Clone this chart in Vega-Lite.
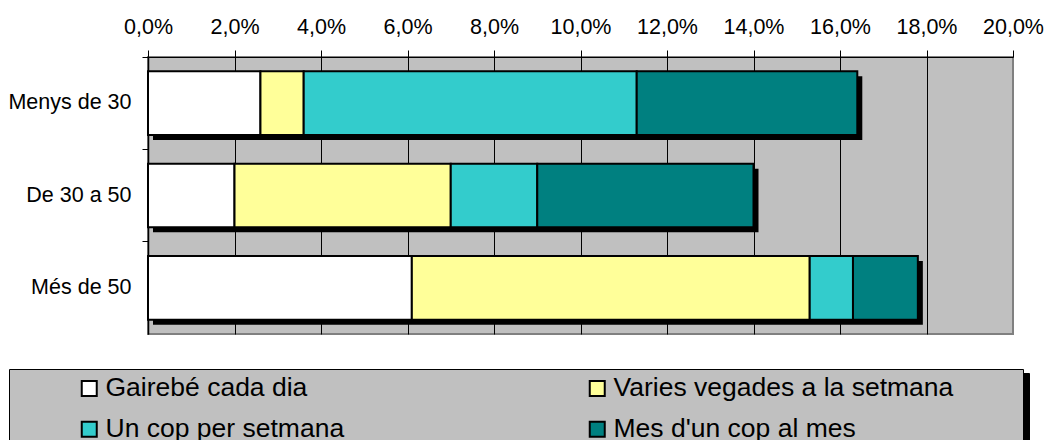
{
  "$schema": "https://vega.github.io/schema/vega-lite/v6.json",
  "width": 865,
  "height": 277,
  "autosize": {"type": "none"},
  "padding": {"left": 148, "top": 57, "right": 32, "bottom": 106},
  "background": "white",
  "config": {
    "font": "Liberation Sans",
    "view": {"fill": "#C0C0C0", "stroke": "#808080", "strokeWidth": 2}
  },
  "data": {
    "values": [
      {"grup": "Menys de 30", "cat": "Gairebé cada dia", "k": 1, "v": 2.6},
      {"grup": "Menys de 30", "cat": "Varies vegades a la setmana", "k": 2, "v": 1.0},
      {"grup": "Menys de 30", "cat": "Un cop per setmana", "k": 3, "v": 7.7},
      {"grup": "Menys de 30", "cat": "Mes d'un cop al mes", "k": 4, "v": 5.1},
      {"grup": "De 30 a 50", "cat": "Gairebé cada dia", "k": 1, "v": 2.0},
      {"grup": "De 30 a 50", "cat": "Varies vegades a la setmana", "k": 2, "v": 5.0},
      {"grup": "De 30 a 50", "cat": "Un cop per setmana", "k": 3, "v": 2.0},
      {"grup": "De 30 a 50", "cat": "Mes d'un cop al mes", "k": 4, "v": 5.0},
      {"grup": "Més de 50", "cat": "Gairebé cada dia", "k": 1, "v": 6.1},
      {"grup": "Més de 50", "cat": "Varies vegades a la setmana", "k": 2, "v": 9.2},
      {"grup": "Més de 50", "cat": "Un cop per setmana", "k": 3, "v": 1.0},
      {"grup": "Més de 50", "cat": "Mes d'un cop al mes", "k": 4, "v": 1.5}
    ]
  },
  "encoding": {
    "y": {
      "field": "grup", "type": "nominal",
      "sort": ["Menys de 30", "De 30 a 50", "Més de 50"],
      "scale": {"paddingInner": 0.31, "paddingOuter": 0.155},
      "axis": {
        "title": null,
        "bandPosition": -0.2246,
        "labelOffset": 0,
        "ticks": true,
        "tickSize": 6,
        "tickColor": "#000",
        "domainColor": "#000",
        "domainWidth": 1.5,
        "labelFontSize": 21.5,
        "labelPadding": 11,
        "labelColor": "#000",
        "grid": false
      }
    }
  },
  "layer": [
    {
      "transform": [
        {"aggregate": [{"op": "sum", "field": "v", "as": "total"}], "groupby": ["grup"]}
      ],
      "mark": {"type": "bar", "color": "#000", "xOffset": 5, "x2Offset": 5, "yOffset": 5},
      "encoding": {
        "x": {
          "field": "total", "type": "quantitative",
          "scale": {"domain": [0, 20], "nice": false},
          "axis": {
            "orient": "top",
            "title": null,
            "values": [0, 2, 4, 6, 8, 10, 12, 14, 16, 18, 20],
            "labelExpr": "replace(format(datum.value, '.1f'), '.', ',') + '%'",
            "grid": true,
            "gridColor": "#000",
            "gridWidth": 1,
            "gridOpacity": {"condition": {"test": "datum.value >= 20", "value": 0}, "value": 1},
            "tickColor": "#000",
            "tickSize": 7,
            "domainColor": "#000",
            "labelFontSize": 21.5,
            "labelPadding": 12,
            "labelColor": "#000",
            "labelFlush": false
          }
        }
      }
    },
    {
      "mark": {"type": "bar", "opacity": 0},
      "encoding": {
        "x": {
          "field": "v", "type": "quantitative", "stack": "zero",
          "scale": {"domain": [0, 20], "nice": false}
        },
        "strokeDash": {
          "field": "cat", "type": "nominal",
          "scale": {
            "domain": ["Un cop per setmana", "Varies vegades a la setmana", "Gairebé cada dia", "Mes d'un cop al mes"],
            "range": [[1, 0], [1, 0], [1, 0], [1, 0]]
          },
          "legend": {
            "orient": "none",
            "legendX": 464,
            "legendY": 316,
            "zindex": 0,
            "columns": 1,
            "title": null,
            "fillColor": "#000",
            "strokeColor": "#000",
            "padding": 200,
            "symbolType": "square",
            "symbolSize": 225,
            "symbolStrokeWidth": 2,
            "symbolOpacity": 0,
            "symbolOffset": 0,
            "labelOffset": 0,
            "labelExpr": "''",
            "labelOpacity": 0,
            "rowPadding": 0
          }
        },
        "order": {"field": "k"}
      }
    },
    {
      "mark": {"type": "bar", "stroke": "#000", "strokeWidth": 2},
      "encoding": {
        "x": {
          "field": "v", "type": "quantitative", "stack": "zero",
          "scale": {"domain": [0, 20], "nice": false}
        },
        "color": {
          "field": "cat", "type": "nominal",
          "scale": {
            "domain": ["Gairebé cada dia", "Varies vegades a la setmana", "Un cop per setmana", "Mes d'un cop al mes"],
            "range": ["#FFFFFF", "#FFFF99", "#33CCCC", "#008080"]
          },
          "legend": {
            "orient": "none",
            "direction": "horizontal",
            "legendX": -139,
            "legendY": 312,
            "zindex": 1,
            "columns": 2,
            "title": " ",
            "titleOrient": "right",
            "titlePadding": 64,
            "titleFontSize": 10,
            "fillColor": "#C0C0C0",
            "strokeColor": "#000",
            "padding": 6,
            "symbolType": "square",
            "symbolSize": 225,
            "symbolStrokeColor": "#000",
            "symbolStrokeWidth": 2,
            "symbolOpacity": 1,
            "symbolOffset": 61,
            "labelOffset": 3,
            "labelFontSize": 26.5,
            "labelColor": "#000",
            "labelLimit": 600,
            "rowPadding": 14,
            "columnPadding": 178
          }
        },
        "order": {"field": "k"}
      }
    }
  ]
}
